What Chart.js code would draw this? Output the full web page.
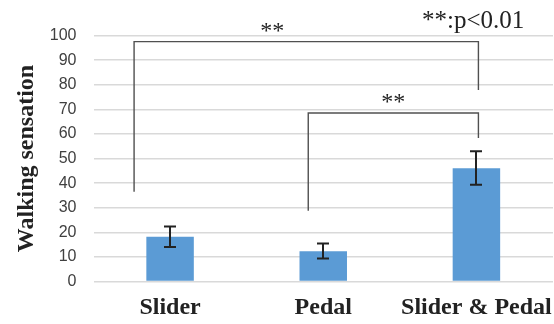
<!DOCTYPE html>
<html>
<head>
<meta charset="utf-8">
<script src="https://cdn.jsdelivr.net/npm/chart.js@4/dist/chart.umd.min.js"></script>
<style>
html,body{margin:0;padding:0;background:#fff;}
#wrap{width:554px;height:324px;position:relative;}
</style>
</head>
<body>
<div id="wrap"><canvas id="c" width="554" height="324"></canvas></div>
<script>
const categories = ['Slider', 'Pedal', 'Slider & Pedal'];
const means = [18.2, 12.3, 46.0];
const errHigh = [22.4, 15.4, 52.9];
const errLow = [14.0, 9.4, 39.3];
const yTicks = [0, 10, 20, 30, 40, 50, 60, 70, 80, 90, 100];
const yTitle = 'Walking sensation';
// significance brackets (category indices and values in data units)
const bracketFrom = [0, 1];
const bracketTo = [2, 2];
const bracketTop = [97.5, 68.5];
const bracketLeftEnd = [36.5, 28.8];
const bracketRightEnd = [77.8, 58.3];
const bracketLabel = ['**', '**'];
const noteText = '**:p<0.01';

// style offsets (pixels)
const bracketLeftShift = [-36, -15];
const bracketLabelShift = [-34, 0];

const overlay = {
  id: 'overlay',
  afterDatasetsDraw(chart) {
    const ctx = chart.ctx;
    const x = chart.scales.x, y = chart.scales.y;
    const meta = chart.getDatasetMeta(0);
    // error bars
    ctx.save();
    ctx.strokeStyle = '#222';
    ctx.lineWidth = 2;
    meta.data.forEach((bar, i) => {
      const cx = Math.round(bar.x);
      const yh = y.getPixelForValue(errHigh[i]);
      const yl = y.getPixelForValue(errLow[i]);
      ctx.beginPath();
      ctx.moveTo(cx, yh); ctx.lineTo(cx, yl);
      ctx.moveTo(cx - 6, yh); ctx.lineTo(cx + 6, yh);
      ctx.moveTo(cx - 6, yl); ctx.lineTo(cx + 6, yl);
      ctx.stroke();
    });
    ctx.restore();
    // brackets
    ctx.save();
    ctx.strokeStyle = '#505050';
    ctx.lineWidth = 1.4;
    ctx.fillStyle = '#222';
    ctx.font = '24px "Liberation Serif", "Times New Roman", serif';
    ctx.textAlign = 'center';
    ctx.textBaseline = 'alphabetic';
    for (let k = 0; k < bracketFrom.length; k++) {
      const xl = x.getPixelForValue(bracketFrom[k]) + bracketLeftShift[k];
      const xr = x.getPixelForValue(bracketTo[k]) + 2;
      const yt = y.getPixelForValue(bracketTop[k]);
      const yl = y.getPixelForValue(bracketLeftEnd[k]);
      const yr = y.getPixelForValue(bracketRightEnd[k]);
      ctx.beginPath();
      ctx.moveTo(xl, yl); ctx.lineTo(xl, yt); ctx.lineTo(xr, yt); ctx.lineTo(xr, yr);
      ctx.stroke();
      const lx = (xl + xr) / 2 + bracketLabelShift[k];
      ctx.fillText(bracketLabel[k], lx, yt - 3.5);
    }
    ctx.textAlign = 'left';
    ctx.font = '25px "Liberation Serif", "Times New Roman", serif';
    ctx.fillText(noteText, 422, 28);
    ctx.restore();
  }
};

new Chart(document.getElementById('c'), {
  type: 'bar',
  data: {
    labels: categories,
    datasets: [{
      data: means,
      backgroundColor: '#5B9BD5',
      borderWidth: 0,
      barPercentage: 0.62,
      categoryPercentage: 0.5
    }]
  },
  options: {
    responsive: false,
    animation: false,
    devicePixelRatio: 1,
    layout: { padding: { left: 12, right: 1, top: 35.5, bottom: 1 } },
    plugins: { legend: { display: false }, tooltip: { enabled: false } },
    scales: {
      x: {
        afterFit(s) { s.height = 41.5; s.paddingLeft = 0; s.paddingRight = 0; },
        grid: { display: false, drawTicks: true, tickLength: 12 },
        border: { display: false },
        ticks: {
          padding: 0,
          autoSkip: false,
          maxRotation: 0,
          minRotation: 0,
          color: '#222',
          font: { family: '"Liberation Serif", "Times New Roman", serif', size: 24, weight: 'bold' }
        }
      },
      y: {
        min: 0, max: 100,
        afterFit(s) { s.width = 81.5; },
        afterBuildTicks(s) { s.ticks = yTicks.map(v => ({ value: v })); },
        grid: { color: '#d9d9d9', lineWidth: 1.5, drawTicks: false },
        border: { display: false },
        ticks: {
          padding: 17,
          autoSkip: false,
          color: '#404040',
          font: { family: '"Liberation Sans", Arial, sans-serif', size: 16 }
        },
        title: {
          display: true,
          text: yTitle,
          color: '#222',
          padding: { top: 0, bottom: 6 },
          font: { family: '"Liberation Serif", "Times New Roman", serif', size: 24, weight: 'bold' }
        }
      }
    }
  },
  plugins: [overlay]
});
</script>
</body>
</html>
